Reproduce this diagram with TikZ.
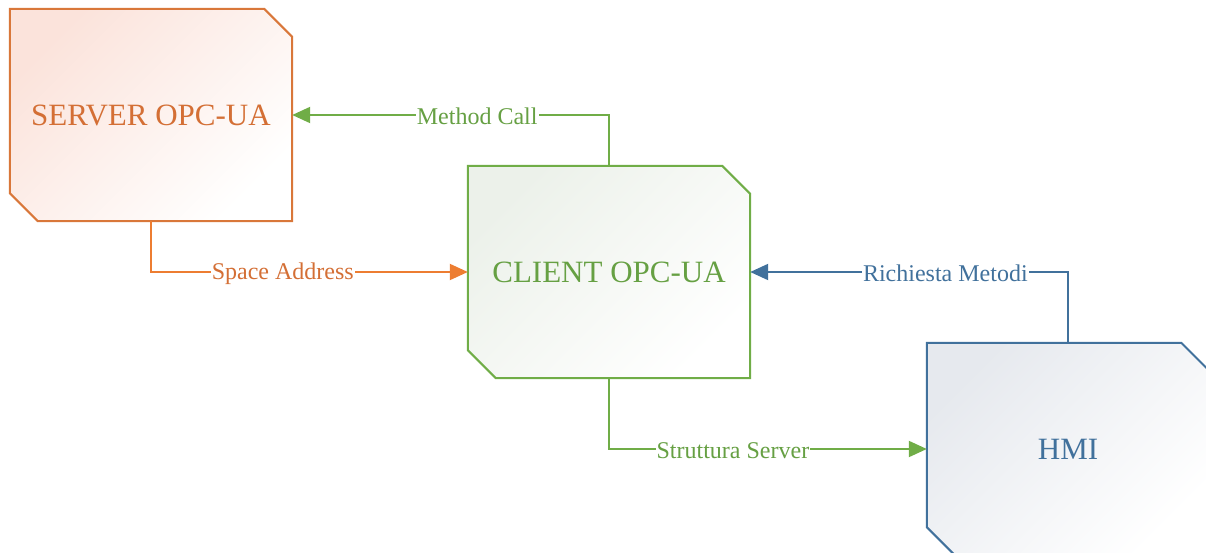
\documentclass[tikz,border=0pt]{standalone}
\usepackage{fontspec}
\setmainfont{Liberation Serif}
\usetikzlibrary{arrows.meta,backgrounds,calc}
\definecolor{orBorder}{HTML}{D9773A}
\definecolor{orText}{HTML}{D46F35}
\definecolor{orArrow}{HTML}{ED7D31}
\definecolor{orFill}{HTML}{FBE3DB}
\definecolor{grLine}{HTML}{70AD47}
\definecolor{grText}{HTML}{66A043}
\definecolor{grFill}{HTML}{ECF1EA}
\definecolor{blLine}{HTML}{41719C}
\definecolor{blFill}{HTML}{E6E9EE}
\tikzset{
  x=1pt, y=1pt,
  boxnode/.style={minimum width=282pt, minimum height=212pt, inner sep=0pt,
    font=\fontsize{31}{36}\selectfont},
  conn/.style={line width=2pt, -{Triangle[length=18pt,width=16pt]}},
  lbl/.style={fill=white, inner sep=1pt, yshift=-1.5pt, font=\fontsize{24}{28}\selectfont},
}
\newcommand{\chbox}[3]{%
  \shadedraw[draw=#2, line width=2pt, top color=#3, middle color={#3!25!white}, bottom color=white, shading angle=45]
    (#1.north west) -- ([xshift=-28pt]#1.north east) -- ([yshift=-28pt]#1.north east)
    -- (#1.south east) -- ([xshift=28pt]#1.south west) -- ([yshift=28pt]#1.south west) -- cycle;}
\begin{document}
\begin{tikzpicture}
\useasboundingbox (0,0) rectangle (1206,-553);
\node[boxnode, text=orText] (server) at (151,-115) {SERVER OPC-UA};
\node[boxnode, text=grText] (client) at (609,-272) {CLIENT OPC-UA};
\node[boxnode, text=blLine] (hmi) at (1068,-449) {HMI};
\begin{scope}[on background layer]
  \chbox{server}{orBorder}{orFill}
  \chbox{client}{grLine}{grFill}
  \chbox{hmi}{blLine}{blFill}
\end{scope}
\draw[conn, draw=grLine] (client.north) |- node[lbl, text=grText, pos=0.708] {Method Call} (server.east);
\draw[conn, draw=orArrow] (server.south) |- node[lbl, text=orText, pos=0.708] {Space Address} (client.west);
\draw[conn, draw=blLine] (hmi.north) |- node[lbl, text=blLine, pos=0.693] {Richiesta Metodi} (client.east);
\draw[conn, draw=grLine] (client.south) |- node[lbl, text=grText, pos=0.695] {Struttura Server} (hmi.west);
\end{tikzpicture}
\end{document}
